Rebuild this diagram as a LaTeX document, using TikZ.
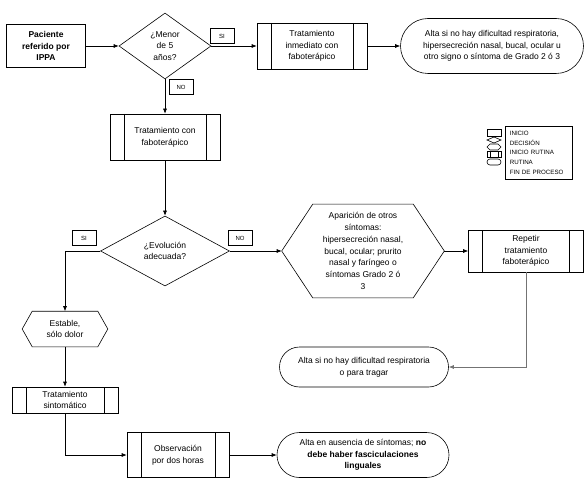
\documentclass[tikz,border=0pt]{standalone}
\usepackage{fontspec}
\setmainfont{Liberation Sans}
\usetikzlibrary{calc}
\usetikzlibrary{arrows.meta}
\usetikzlibrary{shapes.geometric}
\usetikzlibrary{shapes.misc}

% hexagon round a named node: #1 node, #2 depth of the points
\newcommand{\hexa}[2]{\draw (#1.west) -- ($(#1.north west)+(#2,0)$) -- ($(#1.north east)-(#2,0)$) -- (#1.east) -- ($(#1.south east)-(#2,0)$) -- ($(#1.south west)+(#2,0)$) -- cycle;}

\begin{document}
\begin{tikzpicture} [x=1pt, y=-1pt, line width=.6pt, font=\fontsize{8.5}{11.7}\selectfont,
  inicio/.style={draw, rectangle, align=center, font=\fontsize{8.5}{11.7}\selectfont\bfseries},
  decision/.style={draw, diamond, align=center, inner sep=0pt},
  rutina/.style={draw, rectangle, align=center, inner sep=1pt, path picture={
     \draw ([xshift=14pt]path picture bounding box.north west) -- ([xshift=14pt]path picture bounding box.south west)
           ([xshift=-14pt]path picture bounding box.north east) -- ([xshift=-14pt]path picture bounding box.south east);}},
  fin/.style={draw, rounded rectangle, align=center, inner sep=1pt},
  hexnode/.style={rectangle, align=center, inner sep=0pt},
  etiq/.style={draw, font=\fontsize{6}{7}\selectfont, minimum width=24pt, minimum height=15pt, inner sep=0pt},
  flecha/.style={-{Latex[length=5pt,width=4pt]}}]
\useasboundingbox (0,0) rectangle (586,481);

% main line
\node[inicio, minimum width=79pt, minimum height=43pt] (pac) at (46,46) {Paciente\\referido por\\IPPA};
\node[decision, minimum width=92pt, minimum height=66pt] (men) at (165,46) {¿Menor\\de 5\\años?};
\node[rutina, minimum width=110pt, minimum height=46pt] (inm) at (312,46) {Tratamiento\\inmediato con\\faboterápico};
\node[fin, minimum width=185pt, minimum height=55pt] (alta1) at (492,46) {Alta si no hay dificultad respiratoria,\\hipersecreción nasal, bucal, ocular u\\otro signo o síntoma de Grado 2 ó 3};

\node[rutina, minimum width=110pt, minimum height=46pt] (trat) at (165,137) {Tratamiento con\\faboterápico};
\node[decision, minimum width=129pt, minimum height=70pt] (evo) at (165,251) {¿Evolución\\adecuada?};
\node[hexnode, minimum width=162pt, minimum height=93pt] (apar) at (363,251) {Aparición de otros\\síntomas:\\hipersecreción nasal,\\bucal, ocular; prurito\\nasal y faríngeo o\\síntomas Grado 2 ó\\3};
\hexa{apar}{31}
\node[rutina, minimum width=115pt, minimum height=42pt] (rep) at (526,251) {Repetir\\tratamiento\\faboterápico};
\node[fin, minimum width=171pt, minimum height=40pt] (alta2) at (364,367) {Alta si no hay dificultad respiratoria\\o para tragar};

\node[hexnode, minimum width=85pt, minimum height=35pt] (est) at (65,329) {Estable,\\sólo dolor};
\hexa{est}{10}
\node[rutina, minimum width=106pt, minimum height=26pt] (sint) at (65,400) {Tratamiento\\sintomático};
\node[rutina, minimum width=102pt, minimum height=45pt] (obs) at (178,455) {Observación\\por dos horas};
\node[fin, minimum width=174pt, minimum height=45pt] (alta3) at (363,455) {Alta en ausencia de síntomas; \textbf{no}\\\textbf{debe haber fasciculaciones}\\\textbf{linguales}};

% connectors
\draw[flecha] (pac) -- (men);
\draw[flecha] (men) -- (inm);
\draw[flecha] (inm) -- (alta1);
\draw[flecha] (men) -- (trat);
\draw[flecha] (trat) -- (evo);
\draw[flecha] (evo.west) -| (est.north);
\draw[flecha] (evo.east) -- (apar.west);
\draw[flecha] (apar.east) -- (rep.west);
\draw[flecha, black!55] (rep.south) |- (alta2.east);
\draw[flecha] (est.south) -- (sint.north);
\draw[flecha] (sint.south) |- (obs.west);
\draw[flecha] (obs) -- (alta3);

% SI / NO
\node[etiq] (si1) at (222,36) {SI};
\node[etiq] (no1) at (181,87) {NO};
\node[etiq] (si2) at (84,238) {SI};
\node[etiq] (no2) at (240,238) {NO};

% legend
\node[draw, anchor=north west, text width=58pt, minimum height=53pt, inner sep=4.5pt, align=left, font=\fontsize{6.2}{9.9}\selectfont] (ley) at (505,126) {INICIO\\DECISIÓN\\INICIO RUTINA\\RUTINA\\FIN DE PROCESO};
\draw (487,129) rectangle (501,136);
\draw (487,140) -- (494,137) -- (501,140) -- (494,143) -- cycle;
\draw (487,147) -- (490,144) -- (498,144) -- (501,147) -- (498,150) -- (490,150) -- cycle;
\draw (487,151) rectangle (501,157) (490,151) -- (490,157) (498,151) -- (498,157);
\draw[rounded corners=3pt] (487,159) rectangle (501,165);

\end{tikzpicture}
\end{document}
